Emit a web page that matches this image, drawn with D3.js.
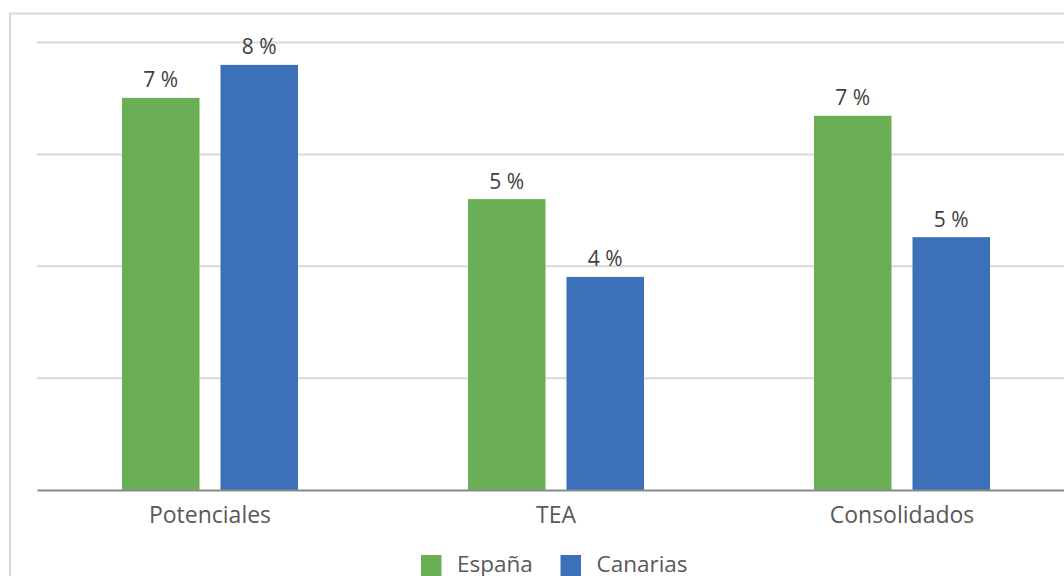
<!DOCTYPE html>
<html>
<head>
<meta charset="utf-8">
<script src="https://cdn.jsdelivr.net/npm/d3@7"></script>
<style>
  html, body { margin: 0; padding: 0; background: #fff; }
  svg { display: block; }
  text { font-family: "Open Sans", "Noto Sans", sans-serif; }
</style>
</head>
<body>
<svg id="chart" width="1064" height="576"></svg>
<script>
// Share of entrepreneurs by stage: Spain vs. Canary Islands (%)
const categories = ["Potenciales", "TEA", "Consolidados"];
const seriesNames = ["España", "Canarias"];
const espana   = [7.01, 5.2, 6.69];
const canarias = [7.6, 3.81, 4.52];
const yTicks = [0, 2, 4, 6, 8];
const colors = ["#6aaf55", "#3c71b9"];

const svg = d3.select("#chart");
const W = 1064, H = 576;

// outer chart frame (runs off the right and bottom edges)
svg.append("rect")
  .attr("x", 10).attr("y", 13.5)
  .attr("width", 1200).attr("height", 700)
  .attr("fill", "none").attr("stroke", "#d9d9d9").attr("stroke-width", 2);

const plot = { left: 37, right: 1075, top: 42.5, bottom: 490 };

const x0 = d3.scaleBand().domain(categories).range([plot.left, plot.right]).paddingInner(0).paddingOuter(0);
const x1 = d3.scaleBand().domain(seriesNames).range([0, x0.bandwidth()]).paddingInner(0.213).paddingOuter(0.863);
const y = d3.scaleLinear().domain([0, 8]).range([plot.bottom, plot.top]);

// horizontal gridlines
svg.append("g").selectAll("line")
  .data(yTicks.filter(t => t > 0))
  .join("line")
  .attr("x1", plot.left).attr("x2", W + 10)
  .attr("y1", d => y(d)).attr("y2", d => y(d))
  .attr("stroke", "#d9d9d9").attr("stroke-width", 2);

const rows = categories.map((c, i) => ({ cat: c, values: [espana[i], canarias[i]] }));

const groups = svg.append("g").selectAll("g")
  .data(rows).join("g")
  .attr("transform", d => `translate(${x0(d.cat)},0)`);

groups.selectAll("rect")
  .data(d => d.values.map((v, j) => ({ name: seriesNames[j], v, j })))
  .join("rect")
  .attr("x", d => x1(d.name))
  .attr("width", x1.bandwidth())
  .attr("y", d => y(d.v))
  .attr("height", d => y(0) - y(d.v))
  .attr("fill", d => colors[d.j]);

groups.selectAll("text.val")
  .data(d => d.values.map((v, j) => ({ name: seriesNames[j], v, j })))
  .join("text")
  .attr("class", "val")
  .attr("x", d => x1(d.name) + x1.bandwidth() / 2)
  .attr("y", d => y(d.v) - 10.5)
  .attr("text-anchor", "middle")
  .attr("font-size", 21)
  .attr("fill", "#404040")
  .text(d => `${Math.round(d.v)} %`);

// baseline axis with category labels
const xAxis = svg.append("g")
  .attr("transform", `translate(0,${plot.bottom})`)
  .call(d3.axisBottom(x0).tickSize(0).tickPadding(16.5));
xAxis.select(".domain").attr("stroke", "#898989").attr("stroke-width", 2);
xAxis.selectAll("text")
  .attr("font-family", "'Open Sans', 'Noto Sans', sans-serif")
  .attr("font-size", 23)
  .attr("fill", "#595959");

// legend
const legend = svg.append("g").attr("transform", "translate(421,555)");
const legendX = [0, 139.5];
seriesNames.forEach((n, i) => {
  const g = legend.append("g").attr("transform", `translate(${legendX[i]},0)`);
  g.append("rect").attr("width", 20.5).attr("height", 21).attr("fill", colors[i]);
  g.append("text").attr("x", 36).attr("y", 17)
    .attr("font-size", 22.5).attr("fill", "#595959").text(n);
});
</script>
</body>
</html>
